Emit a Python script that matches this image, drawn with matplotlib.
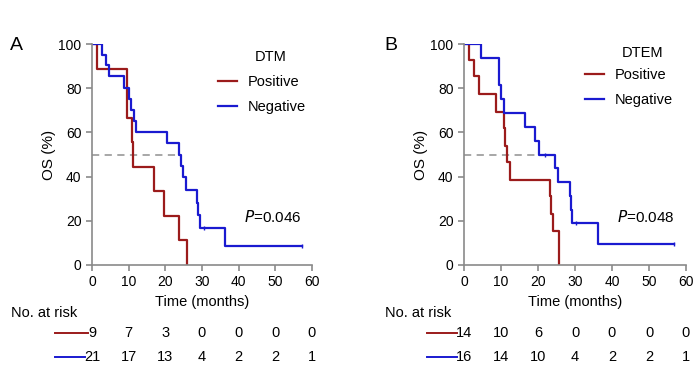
import matplotlib.pyplot as plt
import matplotlib.transforms as mtransforms

plt.rcParams['font.family'] = ['Liberation Sans', 'DejaVu Sans']

RED = '#9b1b1b'
BLUE = '#1a1ad0'
GREY = '#8a8a8a'

# panel A (DTM)
a_pos_t = [0, 1.4, 9.5, 10.9, 11.3, 17.0, 19.7, 23.6, 26.0]
a_pos_s = [100, 88.9, 66.7, 55.6, 44.4, 33.3, 22.2, 11.1, 0]
a_neg_t = [0, 2.7, 3.9, 4.5, 8.8, 10.0, 10.7, 11.5, 12.0, 20.4, 23.6, 24.3, 24.9, 25.6,
           28.7, 29.0, 29.5, 36.4, 57.3]
a_neg_s = [100, 95.2, 90.5, 85.3, 80.0, 75.2, 70.0, 65.0, 60.0, 55.0, 50.0, 45.0, 40.0, 34.0,
           28.0, 22.5, 16.9, 8.6, 8.6]
a_cens_t = [30.5, 57.3]
a_cens_s = [16.9, 8.6]
a_median = 23.6
a_risk_pos = [9, 7, 3, 0, 0, 0, 0]
a_risk_neg = [21, 17, 13, 4, 2, 2, 1]

# panel B (DTEM)
b_pos_t = [0, 1.3, 2.6, 4.0, 8.7, 10.7, 11.2, 11.6, 12.3, 23.3, 23.6, 24.0, 25.6]
b_pos_s = [100, 92.9, 85.7, 77.4, 69.4, 61.8, 53.9, 46.4, 38.5, 31.0, 23.1, 15.4, 0]
b_neg_t = [0, 4.5, 9.4, 10.1, 10.7, 16.6, 19.2, 20.4, 24.6, 25.4, 28.7, 29.0, 29.2, 36.2, 56.8]
b_neg_s = [100, 93.8, 81.3, 75.0, 68.8, 62.5, 56.3, 50.0, 43.8, 37.5, 31.3, 25.0, 18.8, 9.4, 9.4]
b_cens_t = [22.0, 30.2, 56.8]
b_cens_s = [50.0, 18.8, 9.4]
b_median = 22.5
b_risk_pos = [14, 10, 6, 0, 0, 0, 0]
b_risk_neg = [16, 14, 10, 4, 2, 2, 1]

risk_times = [0, 10, 20, 30, 40, 50, 60]

fig = plt.figure(figsize=(7, 3.86), dpi=100)


def fy(py):
    return 1 - py / 386


def draw_panel(rect, letter, title, pos_t, pos_s, neg_t, neg_s, cens_t, cens_s, median,
               pval, risk_pos, risk_neg, lx, leg_xy, title_xy):
    ax = fig.add_axes(rect)
    ax.plot([0, median], [50, 50], color='#a0a0a0', ls=(0, (4, 3)), lw=1.3)
    ax.step(pos_t, pos_s, where='post', color=RED, lw=1.6, label='Positive')
    ax.step(neg_t, neg_s, where='post', color=BLUE, lw=1.6, label='Negative')
    ax.plot(cens_t, cens_s, ls='none', marker='|', ms=3, mew=1, color=BLUE)
    ax.set_xlim(0, 60)
    ax.set_ylim(0, 100)
    ax.set_xticks(risk_times)
    ax.set_yticks([0, 20, 40, 60, 80, 100])
    for s in ['top', 'right']:
        ax.spines[s].set_visible(False)
    for s in ['left', 'bottom']:
        ax.spines[s].set_color(GREY)
        ax.spines[s].set_linewidth(1.2)
    ax.tick_params(colors=GREY, labelcolor='black', labelsize=10, length=4, width=1.2)
    ax.set_xlabel('Time (months)', fontsize=10.5, labelpad=4)
    ax.set_ylabel('OS (%)', fontsize=11, labelpad=2)
    ax.text(0.69, 0.195, r'$\it{P}$' + '=' + pval, transform=ax.transAxes, fontsize=11)
    ax.legend(loc='upper left', bbox_to_anchor=leg_xy, frameon=False, fontsize=10.5,
              handlelength=1.3, handletextpad=0.75, labelspacing=0.75, borderaxespad=0)
    ax.text(title_xy[0], title_xy[1], title, transform=ax.transAxes, ha='center', va='center',
            fontsize=10.5)
    fig.text(lx, fy(45), letter, fontsize=14, va='center')
    fig.text(lx + 0.002, fy(313), 'No. at risk', fontsize=10.5, va='center')
    trans = mtransforms.blended_transform_factory(ax.transData, fig.transFigure)
    for row, vals, col in [(333, risk_pos, RED), (357, risk_neg, BLUE)]:
        for t, v in zip(risk_times, vals):
            ax.text(t, fy(row), str(v), transform=trans, ha='center', va='center', fontsize=10.5,
                    clip_on=False)
        w = len(str(vals[0])) * 0.85
        ax.plot([-10, -w - 0.2], [fy(row), fy(row)], color=col, lw=1.4, transform=trans,
                clip_on=False)
    return ax


draw_panel([92 / 700, 1 - 265 / 386, 220 / 700, 221 / 386], 'A', 'DTM',
           a_pos_t, a_pos_s, a_neg_t, a_neg_s, a_cens_t, a_cens_s, a_median,
           '0.046', a_risk_pos, a_risk_neg, 10 / 700, (0.545, 0.887), (0.814, 0.941))
draw_panel([464 / 700, 1 - 265 / 386, 222 / 700, 221 / 386], 'B', 'DTEM',
           b_pos_t, b_pos_s, b_neg_t, b_neg_s, b_cens_t, b_cens_s, b_median,
           '0.048', b_risk_pos, b_risk_neg, 384 / 700, (0.518, 0.919), (0.806, 0.959))

fig.savefig('out.png', dpi=100)
